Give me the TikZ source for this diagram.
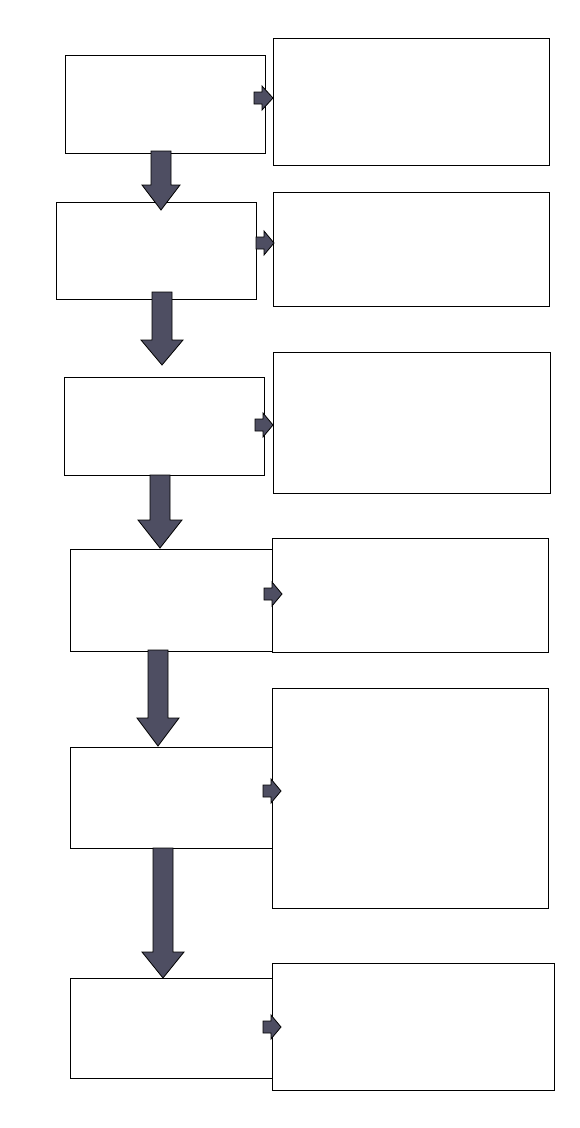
\documentclass[tikz,border=0pt]{standalone}
\definecolor{arrowgrey}{RGB}{78,78,98}
\begin{document}
\begin{tikzpicture}[x=1pt,y=-1pt,
  box/.style={draw=black,line width=0.8pt,fill=white},
  blk/.style={draw=black,line width=0.8pt,fill=arrowgrey}]
\useasboundingbox (0,0) rectangle (580,1128);
\newcommand\darrow[6]{% cx, shaft half, head half, ytop, ybase, ytip
  \draw[blk] (#1-#2,#4) -- (#1+#2,#4) -- (#1+#2,#5) -- (#1+#3,#5) -- (#1,#6) -- (#1-#3,#5) -- (#1-#2,#5) -- cycle;}
\newcommand\rarrow[3]{% x0, y, xtip
  \draw[blk] (#1,#2-6) -- (#1+8,#2-6) -- (#1+8,#2-12) -- (#3,#2) -- (#1+8,#2+12) -- (#1+8,#2+6) -- (#1,#2+6) -- cycle;}
% left boxes
\draw[box] (65,55) rectangle (265,153);
\draw[box] (56,202) rectangle (256,299);
\draw[box] (64,377) rectangle (264,475);
\draw[box] (70,549) rectangle (272,651);
\draw[box] (70,747) rectangle (272,848);
\draw[box] (70,978) rectangle (272,1078);
% right boxes
\draw[box] (273,38) rectangle (549,165);
\draw[box] (273,192) rectangle (549,306);
\draw[box] (273,352) rectangle (550,493);
\draw[box] (272,538) rectangle (548,652);
\draw[box] (272,688) rectangle (548,908);
\draw[box] (272,963) rectangle (554,1090);
% down arrows
\darrow{161}{10}{19}{151}{185}{210}
\darrow{162}{10}{21}{292}{340}{365}
\darrow{160}{10}{22}{475}{520}{548}
\darrow{158}{10}{21}{650}{718}{746}
\darrow{163}{10}{21}{848}{952}{978}
% right arrows
\rarrow{254}{98}{273}
\rarrow{256}{243}{274}
\rarrow{255}{425}{273}
\rarrow{264}{594}{282}
\rarrow{263}{791}{281}
\rarrow{263}{1027}{281}
\end{tikzpicture}
\end{document}
